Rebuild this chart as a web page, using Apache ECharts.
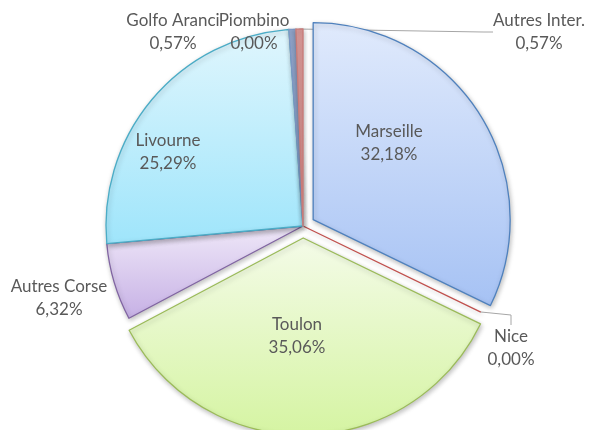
<!DOCTYPE html>
<html>
<head>
<meta charset="utf-8">
<script src="https://cdn.jsdelivr.net/npm/echarts@6/dist/echarts.min.js"></script>
<style>
html, body { margin: 0; padding: 0; background: #fff; }
#chart { width: 589px; height: 430px; }
</style>
</head>
<body>
<div id="chart"></div>
<script>
// parts par port (%), sens horaire depuis midi
var ports = ['Marseille', 'Nice', 'Toulon', 'Autres Corse', 'Livourne', 'Golfo Aranci', 'Piombino', 'Autres Inter.'];
var parts = [32.18, 0.00, 35.06, 6.32, 25.29, 0.57, 0.00, 0.57];

var fills = [
    ['#e0eafc', '#a6c2f4', '#4f81bd'],
    ['#d99694', '#d99694', '#c0504d'],
    ['#f4fbe8', '#d5f4a2', '#9bbb59'],
    ['#efe8f8', '#c6b0e5', '#8064a2'],
    ['#e0f6fd', '#9fe5fb', '#4bacc6'],
    ['#95a9cf', '#8aa1cb', '#7f97c4'],
    ['#dddddd', '#dddddd', '#aaaaaa'],
    ['#dc9b99', '#d58c8a', '#c97a78']
];
var exploded = ['Marseille', 'Toulon'];
var insideLabels = ['Marseille', 'Toulon', 'Livourne'];
var noLine = ['Golfo Aranci', 'Autres Corse'];

// label block centres (Excel-like placement)
var labelPlace = {
    'Marseille': [389, 143],
    'Toulon': [297, 336],
    'Livourne': [168, 152],
    'Autres Corse': [59, 298],
    'Golfo Aranci': [173, 32],
    'Piombino': [254, 32],
    'Autres Inter.': [539, 32],
    'Nice': [511, 348]
};

var CX = 303, CY = 226, R = 197, PULL = 12;

var chart = echarts.init(document.getElementById('chart'));

// direction of a slice's middle, clockwise from 12 o'clock
function midAngle(idx) {
    var total = 0, before = 0;
    parts.forEach(function (v, i) { total += v; if (i < idx) before += v; });
    return (before + parts[idx] / 2) / total * Math.PI * 2;
}

// visibleFn decides which slices a series actually paints
function makeData(visibleFn) {
    return ports.map(function (name, i) {
        var inside = insideLabels.indexOf(name) >= 0;
        if (!visibleFn(name)) {
            return {
                name: name, value: parts[i],
                itemStyle: { color: 'rgba(0,0,0,0)', borderWidth: 0, shadowBlur: 0, shadowColor: 'rgba(0,0,0,0)' },
                label: { show: false },
                labelLine: { show: false }
            };
        }
        return {
            name: name,
            value: parts[i],
            itemStyle: {
                color: new echarts.graphic.LinearGradient(0, 0, 0, 1, [
                    { offset: 0, color: fills[i][0] },
                    { offset: 1, color: fills[i][1] }
                ]),
                borderColor: fills[i][2]
            },
            label: { position: inside ? 'inside' : 'outside' },
            labelLine: { show: !inside && noLine.indexOf(name) < 0 }
        };
    });
}

function pieSeries(center, visibleFn) {
    return {
        type: 'pie',
        center: center,
        radius: R,
        startAngle: 90,
        clockwise: true,
        silent: true,
        avoidLabelOverlap: false,
        minShowLabelAngle: 0,
        itemStyle: {
            borderWidth: 1.3,
            shadowBlur: 5,
            shadowColor: 'rgba(0,0,0,0.25)',
            shadowOffsetX: 1,
            shadowOffsetY: 2
        },
        label: {
            color: '#595959',
            fontFamily: 'Lato',
            fontSize: 17,
            lineHeight: 23,
            align: 'center',
            formatter: function (p) {
                return p.name + '\n' + p.value.toFixed(2).replace('.', ',') + '%';
            }
        },
        labelLine: {
            lineStyle: { color: '#a6a6a6', width: 1 },
            length: 10,
            length2: 10
        },
        labelLayout: function (p) {
            var pos = labelPlace[ports[p.dataIndex]];
            return { x: pos[0], y: pos[1], align: 'center', verticalAlign: 'middle' };
        },
        emphasis: { disabled: true },
        data: makeData(visibleFn)
    };
}

var series = [pieSeries([CX, CY], function (n) { return exploded.indexOf(n) < 0; })];
exploded.forEach(function (name) {
    var a = midAngle(ports.indexOf(name));
    series.push(pieSeries(
        [CX + PULL * Math.sin(a), CY - PULL * Math.cos(a)],
        function (n) { return n === name; }
    ));
});

chart.setOption({ animation: false, series: series });
</script>
</body>
</html>
